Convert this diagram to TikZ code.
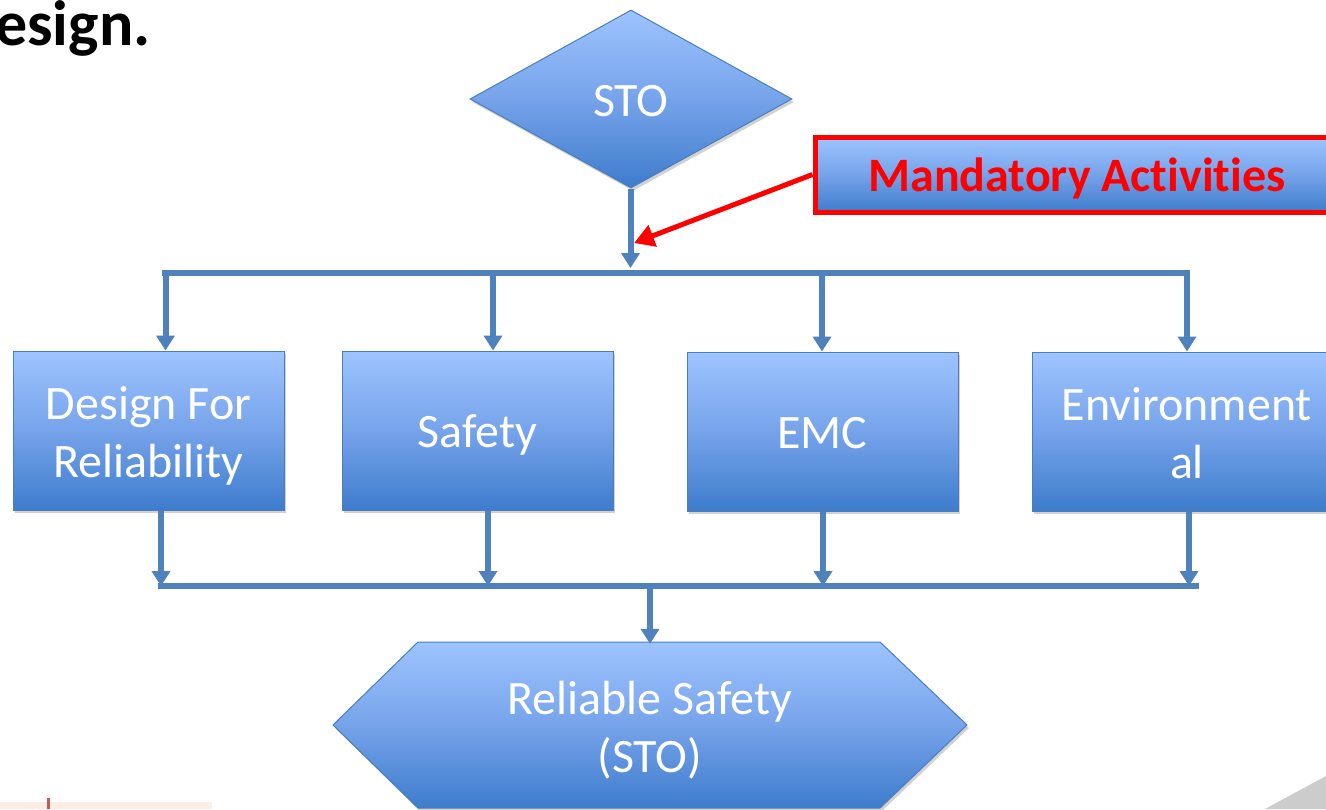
\documentclass[tikz,border=0pt]{standalone}
\usepackage{fontspec}
\setmainfont{Carlito}[Ligatures=NoCommon]
\usetikzlibrary{arrows.meta,shapes.geometric,shadows}
\definecolor{ctop}{RGB}{158,196,255}
\definecolor{cmid}{RGB}{118,163,234}
\definecolor{cbot}{RGB}{62,124,204}
\definecolor{cline}{RGB}{79,129,189}
\definecolor{cedge}{RGB}{74,126,187}
\definecolor{cred}{RGB}{255,0,0}
\definecolor{cgray}{RGB}{204,204,204}
\definecolor{cfaint}{RGB}{252,236,230}
\definecolor{ctick}{RGB}{196,90,80}
\newcommand{\lowtxt}[2]{\raisebox{-#1}[\height][\depth]{\begin{tabular}{@{}c@{}}#2\end{tabular}}}
\tikzset{
  fillgrad/.style={top color=ctop, bottom color=cbot, middle color=cmid},
  shad/.style={drop shadow={shadow xshift=2pt,shadow yshift=-3pt,opacity=0.18,fill=black}},
  bigtext/.style={text=white, font=\fontsize{48}{58}\selectfont, align=center},
  box/.style={draw=cedge, line width=1pt, fillgrad, shad, minimum width=271pt, minimum height=159pt, inner sep=0pt, bigtext},
  conn/.style={draw=cline, line width=6pt},
  arr/.style={conn, -{Triangle[width=18pt,length=15pt]}},
  redarr/.style={draw=cred, line width=5pt, -{Triangle[width=22pt,length=20pt]}},
}
\begin{document}
\begin{tikzpicture}[x=1pt,y=-1pt]
\useasboundingbox (0,0) rectangle (1326,809);
\clip (0,0) rectangle (1326,809);
\fill[white] (0,0) rectangle (1326,809);

% title fragment
\node[anchor=base west, inner sep=0pt, font=\bfseries\fontsize{64}{70}\selectfont] (title) at (-5,45) {esign.};

% faint logo strip and gray corner
\fill[cfaint] (0,802) rectangle (212,809);
\fill[ctick] (47,798) rectangle (50,809);
\fill[cgray] (1265,809) -- (1326,776) -- (1326,809) -- cycle;

% STO diamond
\node[diamond, draw=cedge, line width=1pt, fillgrad, shad, minimum width=322pt, minimum height=178pt, inner sep=0pt, bigtext] (sto) at (631,99) {\lowtxt{6pt}{STO}};

% boxes
\node[box] (b1) at (148.5,430.5) {\lowtxt{6pt}{Design For\\Reliability}};
\node[box] (b2) at (477.5,430.5) {\lowtxt{5pt}{Safety}};
\node[box] (b3) at (822.5,431.5) {\lowtxt{5pt}{EMC}};
\node[box, minimum width=310pt] (b4) at (1187,431.5) {\lowtxt{6pt}{Environment\\al}};

% hexagon
\path[draw=cedge, line width=1pt, fillgrad, shad] (418,642) -- (880,642) -- (967,725) -- (880,808) -- (418,808) -- (333,725) -- cycle;
\node[bigtext, minimum height=166pt, inner sep=0pt] (rs) at (650,727) {\lowtxt{5pt}{Reliable Safety\\(STO)}};

% connector coordinates
\coordinate (stemend) at (630.5,268);
\coordinate (tl) at (162,273);
\coordinate (tr) at (1190,273);
\coordinate (d1) at (165.5,273);
\coordinate (d2) at (493,273);
\coordinate (d3) at (822,273);
\coordinate (d4) at (1187,273);
\coordinate (u1) at (161,586);
\coordinate (u2) at (488,586);
\coordinate (u3) at (823,586);
\coordinate (u4) at (1189,586);
\coordinate (bl) at (158,586);
\coordinate (br) at (1199,586);
\coordinate (bm) at (650,586);
\coordinate (hit) at (634,243);

% top distribution
\draw[arr] (sto.south -| stemend) -- (stemend);
\draw[conn] (tl) -- (tr);
\draw[arr] (d1) -- (d1 |- b1.north);
\draw[arr] (d2) -- (d2 |- b2.north);
\draw[arr] (d3) -- (d3 |- b3.north);
\draw[arr] (d4) -- (d4 |- b4.north);

% bottom collection
\draw[conn] (bl) -- (br);
\draw[arr] (u1 |- b1.south) -- (u1);
\draw[arr] (u2 |- b2.south) -- (u2);
\draw[arr] (u3 |- b3.south) -- (u3);
\draw[arr] (u4 |- b4.south) -- (u4);
\draw[arr] (bm) -- (bm |- rs.north);

% mandatory activities
\node[draw=cred, line width=5pt, fillgrad, shad, minimum width=524pt, minimum height=75pt, inner sep=0pt, text=cred, font=\bfseries\fontsize{48}{56}\selectfont] (mand) at (1077,174.5) {\raisebox{-4pt}[\height][\depth]{Mandatory Activities}};
\draw[redarr] (mand.west) -- (hit);
\end{tikzpicture}
\end{document}
